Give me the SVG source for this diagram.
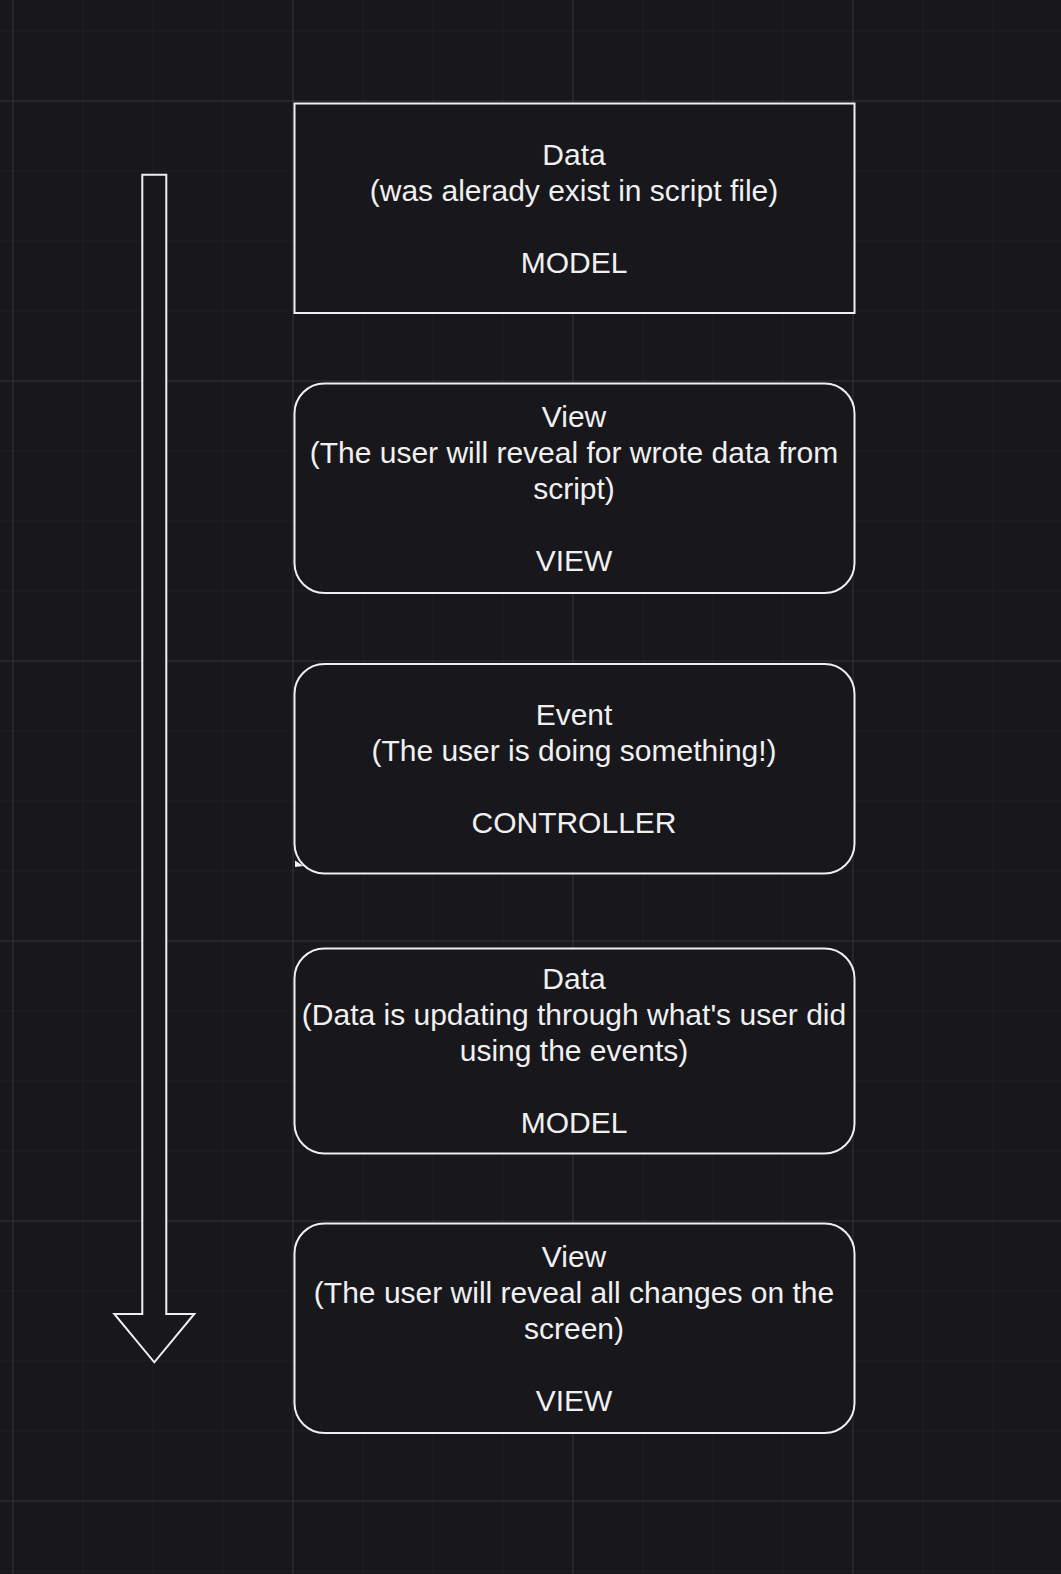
<svg xmlns="http://www.w3.org/2000/svg" width="1061" height="1574" viewBox="0 0 1061 1574">
  <defs>
    <pattern id="minor" patternUnits="userSpaceOnUse" x="12.5" y="30.5" width="70" height="70">
      <path d="M0 0 V70 M0 0 H70" fill="none" stroke="#262529" stroke-width="1"/>
    </pattern>
    <pattern id="major" patternUnits="userSpaceOnUse" x="12.5" y="100.5" width="280" height="280">
      <path d="M0 0 V280 M0 0 H280" fill="none" stroke="#45444a" stroke-width="1"/>
    </pattern>
  </defs>
  <style>
    .box { fill: #18171c; stroke: #f0f0f0; stroke-width: 2; }
    .lbl { font-family: "Liberation Sans", Arial, Helvetica, sans-serif; font-size: 30px; fill: #f0f0f0; text-anchor: middle; }
    .conn { fill: #18171c; stroke: #f0f0f0; stroke-width: 2; stroke-linejoin: miter; }
  </style>
  <rect x="0" y="0" width="1061" height="1574" fill="#18171c"/>
  <rect x="0" y="0" width="1061" height="1574" fill="url(#minor)"/>
  <rect x="0" y="0" width="1061" height="1574" fill="url(#major)"/>

  <g id="connectors">
    <polygon class="conn" points="142.3,174.7 166.3,174.7 166.3,1314 194.3,1314 154.3,1362.3 114.3,1314 142.3,1314"/>
    <polygon points="295,860.5 303.5,866 295,867" fill="#f0f0f0"/>
  </g>

  <g id="node-model-1">
    <rect class="box" x="294.5" y="103.5" width="560" height="209.5"/>
    <text class="lbl" x="574" y="165">Data</text>
    <text class="lbl" x="574" y="201">(was alerady exist in script file)</text>
    <text class="lbl" x="574" y="273">MODEL</text>
  </g>

  <g id="node-view-1">
    <rect class="box" x="294.5" y="383.5" width="560" height="209.5" rx="30" ry="30"/>
    <text class="lbl" x="574" y="426.5">View</text>
    <text class="lbl" x="574" y="462.5">(The user will reveal for wrote data from</text>
    <text class="lbl" x="574" y="498.5">script)</text>
    <text class="lbl" x="574" y="570.5">VIEW</text>
  </g>

  <g id="node-controller">
    <rect class="box" x="294.5" y="664" width="560" height="209.5" rx="30" ry="30"/>
    <text class="lbl" x="574" y="725">Event</text>
    <text class="lbl" x="574" y="761">(The user is doing something!)</text>
    <text class="lbl" x="574" y="833">CONTROLLER</text>
  </g>

  <g id="node-model-2">
    <rect class="box" x="294.5" y="948.5" width="560" height="205" rx="30" ry="30"/>
    <text class="lbl" x="574" y="988.5">Data</text>
    <text class="lbl" x="574" y="1024.5">(Data is updating through what's user did</text>
    <text class="lbl" x="574" y="1060.5">using the events)</text>
    <text class="lbl" x="574" y="1132.5">MODEL</text>
  </g>

  <g id="node-view-2">
    <rect class="box" x="294.5" y="1223.5" width="560" height="209.5" rx="30" ry="30"/>
    <text class="lbl" x="574" y="1266.5">View</text>
    <text class="lbl" x="574" y="1302.5">(The user will reveal all changes on the</text>
    <text class="lbl" x="574" y="1338.5">screen)</text>
    <text class="lbl" x="574" y="1410.5">VIEW</text>
  </g>
</svg>
